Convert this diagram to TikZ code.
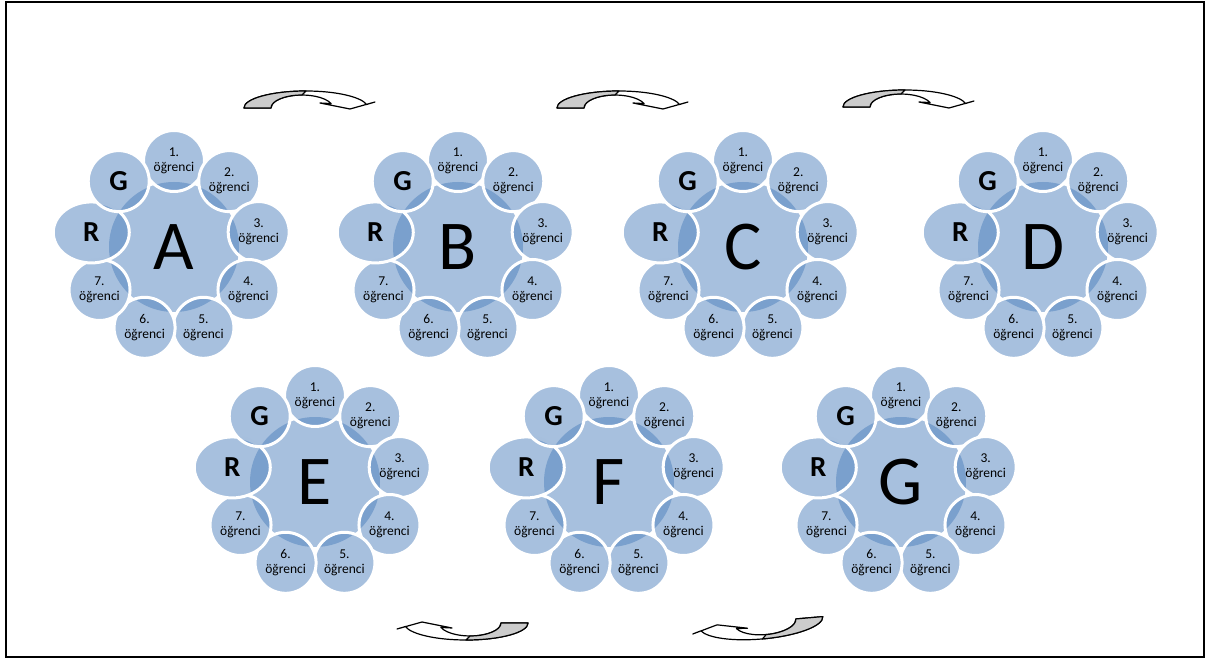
\documentclass[tikz,border=0pt]{standalone}
\usepackage{fontspec}
\setmainfont{Carlito}
\usetikzlibrary{calc,shapes.geometric}
\definecolor{accent}{RGB}{79,129,189}

% one group: hub letter with nine seats round it
\newcommand{\groupring}[4]{%
	\node[hub] (#1) at (#2,#3) {#4};
	\node[seat] (#1-1) at ($(#1)+(90:86)$)   {1.\\öğrenci};
	\node[seat] (#1-2) at ($(#1)+(50:86)$)   {2.\\öğrenci};
	\node[seat] (#1-3) at ($(#1)+(10:86)$)   {3.\\öğrenci};
	\node[seat] (#1-4) at ($(#1)+(-30:86)$)  {4.\\öğrenci};
	\node[seat] (#1-5) at ($(#1)+(-70:86)$)  {5.\\öğrenci};
	\node[seat] (#1-6) at ($(#1)+(-110:86)$) {6.\\öğrenci};
	\node[seat] (#1-7) at ($(#1)+(-150:86)$) {7.\\öğrenci};
	\node[seat, role, ellipse, minimum width=76, minimum height=61] (#1-R) at ($(#1)+(170:84)$) {R};
	\node[seat, role] (#1-G) at ($(#1)+(130:86)$) {G};
}

\begin{document}
\begin{tikzpicture}[x=1pt, y=1pt,
		hub/.style={circle, fill=accent!50!white, minimum size=130, inner sep=0,
			font=\fontsize{70}{70}\selectfont},
		seat/.style={circle, fill=accent, fill opacity=0.5, text opacity=1,
			draw=white, line width=3, minimum size=61, inner sep=0,
			align=center, font=\fontsize{13.5}{15}\selectfont},
		role/.style={font=\bfseries\fontsize{29}{29}\selectfont},
		turn/.pic={
			\filldraw[fill=white] (-62,0) arc[start angle=180, end angle=12, x radius=62, y radius=17]
				-- (69,6) -- (44,-1) -- (14,5) -- (25.1,4.4)
				arc[start angle=20, end angle=180, x radius=31, y radius=13] -- cycle;
			\filldraw[fill=gray!40] (-62,0) arc[start angle=180, end angle=90, x radius=62, y radius=17]
				-- (-4,13) arc[start angle=90, end angle=180, x radius=31, y radius=13] -- cycle;
		},
		rot/.style={line width=1.2, line join=round}
		]
		\useasboundingbox (0,0) rectangle (1208,-660);
		\draw[line width=2] (6,-2) rectangle (1204,-657);
		
		% Top row
		\groupring{A}{174}{-247}{A}
		\groupring{B}{458}{-247}{B}
		\groupring{C}{743}{-247}{C}
		\groupring{D}{1043}{-247}{D}
		
		% Bottom row
		\groupring{E}{315}{-482}{E}
		\groupring{F}{609}{-482}{F}
		\groupring{G}{901}{-482}{G}
		
		% Turn arrows
		\pic[rot] (ab) at (306,-108) {turn};
		\pic[rot] (bc) at (619,-108) {turn};
		\pic[rot] (cd) at (905,-107) {turn};
		\pic[rot, rotate=180] (fe) at (466,-623) {turn};
		\pic[rot, rotate=185] (gf) at (761,-622) {turn};
	\end{tikzpicture}
\end{document}
